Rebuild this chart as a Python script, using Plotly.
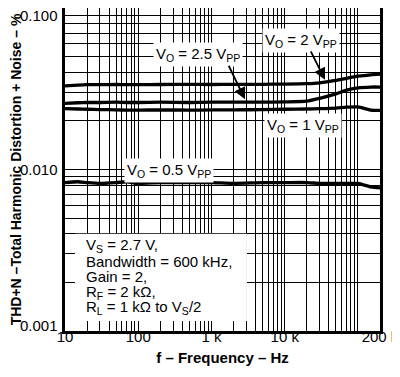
import math
import plotly.graph_objects as go

freq = [10, 15, 20, 30, 50, 70, 100, 200, 500, 1000, 2000, 5000, 10000,
        20000, 30000, 50000, 70000, 100000, 150000, 200000]
thd_2vpp = [0.0329, 0.0333, 0.0335, 0.0335, 0.0336, 0.0335, 0.0335, 0.0336, 0.0337, 0.0336,
            0.0337, 0.0337, 0.0338, 0.0340, 0.0344, 0.0356, 0.0367, 0.0378, 0.0386, 0.0389]
thd_2p5vpp = [0.0257, 0.0259, 0.0260, 0.0260, 0.0261, 0.0260, 0.0260, 0.0261, 0.0260, 0.0261,
              0.0261, 0.0261, 0.0262, 0.0265, 0.0276, 0.0294, 0.0310, 0.0320, 0.0324, 0.0324]
thd_1vpp = [0.0238, 0.0237, 0.0236, 0.0235, 0.0234, 0.0233, 0.0233, 0.0234, 0.0233, 0.0234,
            0.0234, 0.0235, 0.0236, 0.0237, 0.0238, 0.0240, 0.0243, 0.0244, 0.0233, 0.0232]
thd_0p5vpp = [0.0083, 0.0084, 0.0083, 0.0082, 0.0083, 0.0084, 0.0082, 0.0083, 0.0083, 0.0083,
              0.0082, 0.0083, 0.0083, 0.0083, 0.0082, 0.0082, 0.0082, 0.0082, 0.0078, 0.0077]

x_tickvals = [10, 100, 1000, 10000, 200000]
x_ticktext = ["10", "100", "1 k", "10 k", "200 k"]
y_tickvals = [0.001, 0.01, 0.1]
y_ticktext = ["0.001", "0.010", "0.100"]

conditions = ["V<sub>S</sub> = 2.7 V,", "Bandwidth = 600 kHz,", "Gain = 2,",
              "R<sub>F</sub> = 2 kΩ,", "R<sub>L</sub> = 1 kΩ to V<sub>S</sub>/2"]

# extent of the white background behind the conditions note (frequency, THD+N)
note_box_f = [13.7, 3050]
note_box_thd = [0.001, 0.0040]

FONT = "Liberation Sans, Arial, sans-serif"

fig = go.Figure()
# white panel behind the conditions text: hides gridlines but keeps axis ticks
fig.add_trace(go.Scatter(x=[note_box_f[0], note_box_f[1], note_box_f[1], note_box_f[0], note_box_f[0]],
                         y=[note_box_thd[0], note_box_thd[0], note_box_thd[1], note_box_thd[1], note_box_thd[0]],
                         mode="lines", fill="toself", fillcolor="white", line=dict(width=0, color="white"),
                         showlegend=False, hoverinfo="skip"))
for ys in [thd_2vpp, thd_2p5vpp, thd_1vpp, thd_0p5vpp]:
    fig.add_trace(go.Scatter(x=freq, y=ys, mode="lines",
                             line=dict(color="black", width=3.3, shape="spline", smoothing=0.6),
                             showlegend=False, hoverinfo="skip"))

# page body has an 8 px margin on every side, so the figure is sized to fit the window
OFF = 8
W, H = 400 - OFF, 377 - 2 * OFF
PL, PR, PT, PB = 65, 380, 8, 323   # plot area in window pixels
L, R, T, B = PL - OFF, 400 - PR, PT - OFF, 377 - PB - 2 * OFF
pw, ph = PR - PL, PB - PT

def px(x):
    return (x - PL) / pw

def py(y):
    return (PB - y) / ph

for i, t in enumerate(conditions):
    fig.add_annotation(xref="paper", yref="paper", x=px(84), y=py(240 + 15 * i), text=t,
                       showarrow=False, xanchor="left", yanchor="middle",
                       font=dict(family=FONT, size=15, color="black"))

labels = [
    ("V<sub>O</sub> = 2.5 V<sub>PP</sub>", 198, 53),
    ("V<sub>O</sub> = 2 V<sub>PP</sub>", 301, 40),
    ("V<sub>O</sub> = 1 V<sub>PP</sub>", 303, 123),
    ("V<sub>O</sub> = 0.5 V<sub>PP</sub>", 169, 166),
]
for t, x, y in labels:
    fig.add_annotation(xref="paper", yref="paper", x=px(x), y=py(y), text=t, showarrow=False,
                       xanchor="center", yanchor="middle", bgcolor="white", borderpad=2,
                       font=dict(family=FONT, size=15, color="black"))

arrows = [((245, 97), (228, 62)), ((325, 78), (310, 48))]
for (hx, hy), (tx, ty) in arrows:
    fig.add_annotation(xref="paper", yref="paper", x=px(hx), y=py(hy), text="",
                       showarrow=True, ax=tx - hx, ay=ty - hy, arrowhead=2, arrowsize=1.3,
                       arrowwidth=1.8, arrowcolor="black", standoff=0)

# y tick labels, kept inside the plot height like the original
label_yshift = [6, 0, -7]
for v, t, s in zip(y_tickvals, y_ticktext, label_yshift):
    fig.add_annotation(xref="paper", yref="y", x=0, y=math.log10(v), text=t,
                       showarrow=False, xanchor="right", yanchor="middle", xshift=-5, yshift=s,
                       font=dict(family=FONT, size=15, color="black"))

axis_common = dict(showline=True, linecolor="black", linewidth=2.5, mirror=True,
                   showgrid=True, gridcolor="black", gridwidth=1,
                   ticks="inside", ticklen=10, tickcolor="black",
                   zeroline=False, automargin=False, ticklabeloverflow="allow",
                   tickfont=dict(family=FONT, size=15, color="black"))

fig.update_xaxes(type="log", range=[1, 5.30103], tickvals=x_tickvals, ticktext=x_ticktext,
                 ticklabelstandoff=-10,
                 minor=dict(dtick="D1", showgrid=True, gridcolor="black", gridwidth=1,
                            ticks="inside", ticklen=10, tickcolor="black"),
                 title=dict(text="<b>f – Frequency – Hz</b>", standoff=9,
                            font=dict(family=FONT, size=15, color="black")),
                 **axis_common)
fig.update_yaxes(type="log", range=[-3, -1], tickvals=y_tickvals, ticktext=y_ticktext,
                 showticklabels=False,
                 minor=dict(dtick="D1", showgrid=True, gridcolor="black", gridwidth=1,
                            ticks="inside", ticklen=10, tickcolor="black"),
                 title=dict(text="<b>THD+N –Total Harmonic Distortion + Noise – %</b>", standoff=40,
                            font=dict(family=FONT, size=14, color="black")),
                 **axis_common)

fig.update_layout(width=W, height=H, margin=dict(l=L, r=R, t=T, b=B),
                  plot_bgcolor="white", paper_bgcolor="white",
                  font=dict(family=FONT, size=15, color="black"))

fig.write_html("out.html")
